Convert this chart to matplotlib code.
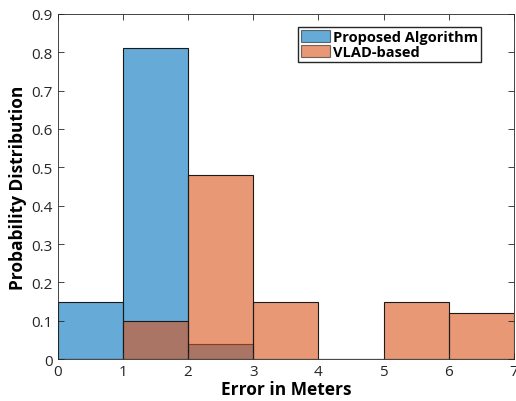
import numpy as np
import matplotlib.pyplot as plt
from matplotlib.patches import Patch

plt.rcParams['font.family'] = ['Open Sans', 'DejaVu Sans']

bin_edges = [0, 1, 2, 3, 4, 5, 6, 7]
proposed = [0.15, 0.81, 0.04, 0.0, 0.0, 0.0, 0.0]
vlad = [0.0, 0.10, 0.48, 0.15, 0.0, 0.15, 0.12]
labels = ['Proposed Algorithm', 'VLAD-based']

blue = (0.0, 0.447, 0.741)
orange = (0.85, 0.325, 0.098)

fig = plt.figure(figsize=(5.16, 4.02), dpi=100)
ax = fig.add_axes([0.112, 0.104, 0.884, 0.859])

left = np.array(bin_edges[:-1])
width = np.diff(bin_edges)
# filled bars (semi-transparent like matlab histogram) + dark outlines
ax.bar(left, proposed, width=width, align='edge', color=blue, alpha=0.6,
       edgecolor='none', label=labels[0])
ax.bar(left, proposed, width=width, align='edge', fill=False,
       edgecolor='#1a1a1a', linewidth=0.8)
ax.bar(left, vlad, width=width, align='edge', color=orange, alpha=0.6,
       edgecolor='none', label=labels[1])
ax.bar(left, vlad, width=width, align='edge', fill=False,
       edgecolor='#1a1a1a', linewidth=0.8)

ax.set_xlim(0, 7)
ax.set_ylim(0, 0.9)
ax.set_xticks(range(0, 8))
ax.set_yticks(np.arange(0, 0.91, 0.1))
ax.set_yticklabels(['0', '0.1', '0.2', '0.3', '0.4', '0.5', '0.6', '0.7', '0.8', '0.9'])
ax.tick_params(direction='in', top=True, right=True, labelsize=11,
               length=4, width=0.6, colors='#262626')
for s in ax.spines.values():
    s.set_color('#262626')
    s.set_linewidth(0.6)

ax.set_xlabel('Error in Meters', fontsize=12.5, fontweight='bold', labelpad=1)
ax.set_ylabel('Probability Distribution', fontsize=12.5, fontweight='bold', labelpad=3)

handles = [Patch(facecolor=blue, alpha=0.6, edgecolor='#1a1a1a', linewidth=0.8),
           Patch(facecolor=orange, alpha=0.6, edgecolor='#1a1a1a', linewidth=0.8)]
ax.legend(handles, labels, loc='upper right', bbox_to_anchor=(0.928, 0.962),
          borderaxespad=0, prop={'weight': 'bold', 'size': 10.5}, fancybox=False,
          edgecolor='#262626', framealpha=1, handlelength=2.0, handleheight=0.9,
          handletextpad=0.2, borderpad=0.2, labelspacing=0.05)

fig.savefig('out.png', dpi=100)
